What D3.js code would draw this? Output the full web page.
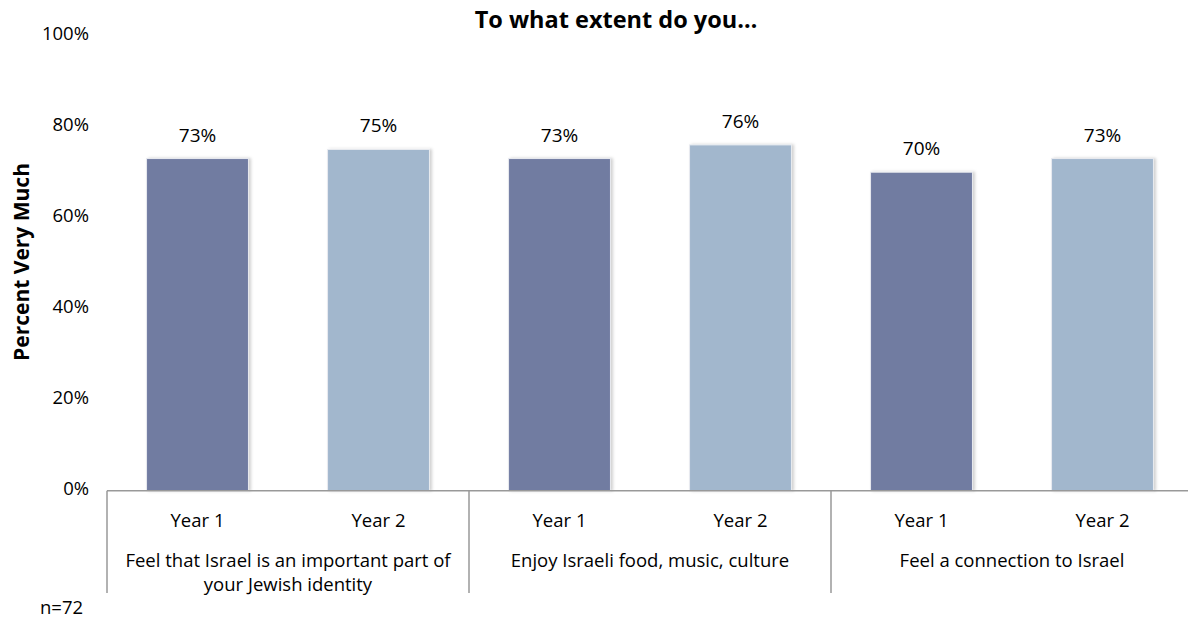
<!DOCTYPE html>
<html>
<head>
<meta charset="utf-8">
<script src="https://cdn.jsdelivr.net/npm/d3@7"></script>
<style>
  html, body { margin: 0; padding: 0; background: #fff; }
  svg { display: block; font-family: "Open Sans", "Lato", sans-serif; }
</style>
</head>
<body>
<svg id="chart" width="1188" height="618"></svg>
<script>
// Survey results: share answering "Very Much", by question and year
const questions = [
  ["Feel that Israel is an important part of", "your Jewish identity"],
  ["Enjoy Israeli food, music, culture"],
  ["Feel a connection to Israel"]
];
const years = ["Year 1", "Year 2"];
const valuesYear1 = [73, 73, 70];
const valuesYear2 = [75, 76, 73];
const yTicks = [0, 20, 40, 60, 80, 100];
const seriesColors = ["#717ba1", "#a2b7cd"];

const bars = [];
questions.forEach((q, qi) => {
  bars.push({ key: qi + "-0", q: qi, year: 0, value: valuesYear1[qi] });
  bars.push({ key: qi + "-1", q: qi, year: 1, value: valuesYear2[qi] });
});

const svg = d3.select("#chart");
const plotLeft = 107, plotRight = 1193, plotTop = 35.7, plotBottom = 490.7;
const bodySize = 18.5;

const x = d3.scaleBand()
  .domain(bars.map(d => d.key))
  .range([plotLeft, plotRight])
  .paddingInner(0.437)
  .paddingOuter(0.2185);

const groupX = d3.scaleBand()
  .domain(questions.map((q, i) => i))
  .range([plotLeft, plotRight]);

const y = d3.scaleLinear().domain([0, 100]).range([plotBottom, plotTop]);

// soft drop shadow on the bars
const defs = svg.append("defs");
const f = defs.append("filter").attr("id", "shadow")
  .attr("x", "-10%").attr("y", "-10%").attr("width", "130%").attr("height", "120%");
f.append("feDropShadow").attr("dx", 2).attr("dy", 0).attr("stdDeviation", 1.5)
  .attr("flood-color", "#000").attr("flood-opacity", 0.18);

// title
svg.append("text")
  .attr("x", 616).attr("y", 28)
  .attr("text-anchor", "middle")
  .attr("font-weight", "bold").attr("font-size", 23.5)
  .attr("fill", "#000")
  .text("To what extent do you…");

// y axis labels (no axis line)
const yAxis = d3.axisLeft(y).tickValues(yTicks).tickFormat(d => d + "%").tickSize(0).tickPadding(0);
const yg = svg.append("g").attr("transform", "translate(89,0)").call(yAxis);
yg.select(".domain").remove();
yg.selectAll("text").attr("font-size", bodySize).attr("fill", "#000")
  .attr("font-family", "'Open Sans', Lato, sans-serif").attr("dy", "0.22em");

// y axis title
svg.append("text")
  .attr("transform", "translate(29,262) rotate(-90)")
  .attr("text-anchor", "middle")
  .attr("font-weight", "bold").attr("font-size", 21)
  .text("Percent Very Much");

// bars
svg.append("g").selectAll("rect")
  .data(bars).join("rect")
  .attr("x", d => x(d.key))
  .attr("y", d => y(d.value))
  .attr("width", x.bandwidth())
  .attr("height", d => y(0) - y(d.value))
  .attr("fill", d => seriesColors[d.year])
  .attr("stroke", "#e8ebf0").attr("stroke-width", 1)
  .attr("filter", "url(#shadow)");

// value labels
svg.append("g").selectAll("text")
  .data(bars).join("text")
  .attr("x", d => x(d.key) + x.bandwidth() / 2)
  .attr("y", d => y(d.value) - 17)
  .attr("text-anchor", "middle")
  .attr("font-size", 19)
  .text(d => d.value + "%");

// category axis: baseline and group separators
const axisColor = "#999";
svg.append("line")
  .attr("x1", plotLeft).attr("x2", 1188)
  .attr("y1", plotBottom).attr("y2", plotBottom)
  .attr("stroke", axisColor).attr("stroke-width", 1.5);

svg.append("g").selectAll("line")
  .data(questions.map((q, i) => i))
  .join("line")
  .attr("x1", d => groupX(d)).attr("x2", d => groupX(d))
  .attr("y1", plotBottom).attr("y2", 593)
  .attr("stroke", axisColor).attr("stroke-width", 1.5);

// year labels
svg.append("g").selectAll("text")
  .data(bars).join("text")
  .attr("x", d => x(d.key) + x.bandwidth() / 2)
  .attr("y", 527)
  .attr("text-anchor", "middle")
  .attr("font-size", bodySize)
  .text(d => years[d.year]);

// question labels
const ql = svg.append("g").selectAll("text")
  .data(questions.map((q, i) => ({ lines: q, i })))
  .join("text")
  .attr("text-anchor", "middle")
  .attr("font-size", bodySize);
ql.selectAll("tspan")
  .data(d => d.lines.map((l, j) => ({ l, j, i: d.i })))
  .join("tspan")
  .attr("x", d => groupX(d.i) + groupX.bandwidth() / 2)
  .attr("y", d => 567 + d.j * 24)
  .text(d => d.l);

// sample size note
svg.append("text")
  .attr("x", 40).attr("y", 614)
  .attr("font-size", bodySize)
  .text("n=72");
</script>
</body>
</html>
